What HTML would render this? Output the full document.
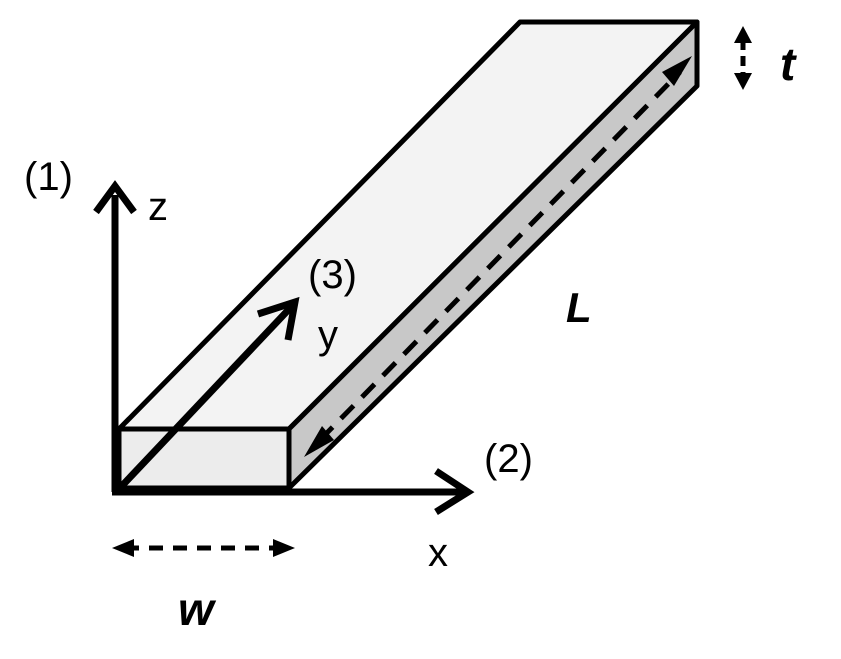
<!DOCTYPE html>
<html><head><style>body{margin:0;background:#fff}svg{display:block}</style></head><body>
<svg width="841" height="659" viewBox="0 0 841 659" xmlns="http://www.w3.org/2000/svg" font-family="Liberation Sans, sans-serif">
<!-- top face -->
<polygon points="119,429 520,22 697,22 289,429" fill="#f3f3f3" stroke="#000" stroke-width="5" stroke-linejoin="round"/>
<!-- side face -->
<polygon points="289,429 697,22 697,86 289,488" fill="#c8c8c8" stroke="#000" stroke-width="5" stroke-linejoin="round"/>
<!-- front face -->
<rect x="119" y="429" width="170" height="59" fill="#ececec" stroke="#000" stroke-width="5"/>
<!-- dashed arrows on side -->
<line x1="320" y1="440" x2="680" y2="72" stroke="#000" stroke-width="5" stroke-dasharray="18,12"/>
<path d="M304,457 L322,426 L334,440 z" fill="#000"/>
<path d="M692,56 L674,86 L662,72 z" fill="#000"/>
<!-- axes -->
<line x1="115" y1="492" x2="115" y2="195" stroke="#000" stroke-width="7"/>
<polyline points="96,212 115,186 134,212" fill="none" stroke="#000" stroke-width="7"/>
<line x1="112" y1="492" x2="468" y2="492" stroke="#000" stroke-width="7"/>
<polyline points="436,471 468,492 436,512" fill="none" stroke="#000" stroke-width="7"/>
<line x1="118" y1="490" x2="292" y2="306" stroke="#000" stroke-width="7"/>
<polyline points="258,314 295,302 288,340" fill="none" stroke="#000" stroke-width="7"/>
<!-- w arrow -->
<line x1="125" y1="548" x2="282" y2="548" stroke="#000" stroke-width="5" stroke-dasharray="14,10"/>
<path d="M112,548 L134,539 L134,557 z" fill="#000"/>
<path d="M295,548 L273,539 L273,557 z" fill="#000"/>
<!-- t arrow -->
<line x1="743" y1="40" x2="743" y2="76" stroke="#000" stroke-width="5" stroke-dasharray="10,6"/>
<path d="M743,26 L734,43 L752,43 z" fill="#000"/>
<path d="M743,90 L734,73 L752,73 z" fill="#000"/>
<!-- labels -->
<text x="24" y="190" font-size="40">(1)</text>
<text x="148" y="220" font-size="40">z</text>
<text x="308" y="288" font-size="40">(3)</text>
<text x="318" y="348" font-size="40">y</text>
<text x="484" y="472" font-size="40">(2)</text>
<text x="428" y="566" font-size="40">x</text>
<text x="566" y="322" font-size="42" font-weight="bold" font-style="italic">L</text>
<text x="178" y="625" font-size="46" font-weight="bold" font-style="italic">w</text>
<text x="780" y="80" font-size="46" font-weight="bold" font-style="italic">t</text>
</svg>
</body></html>
